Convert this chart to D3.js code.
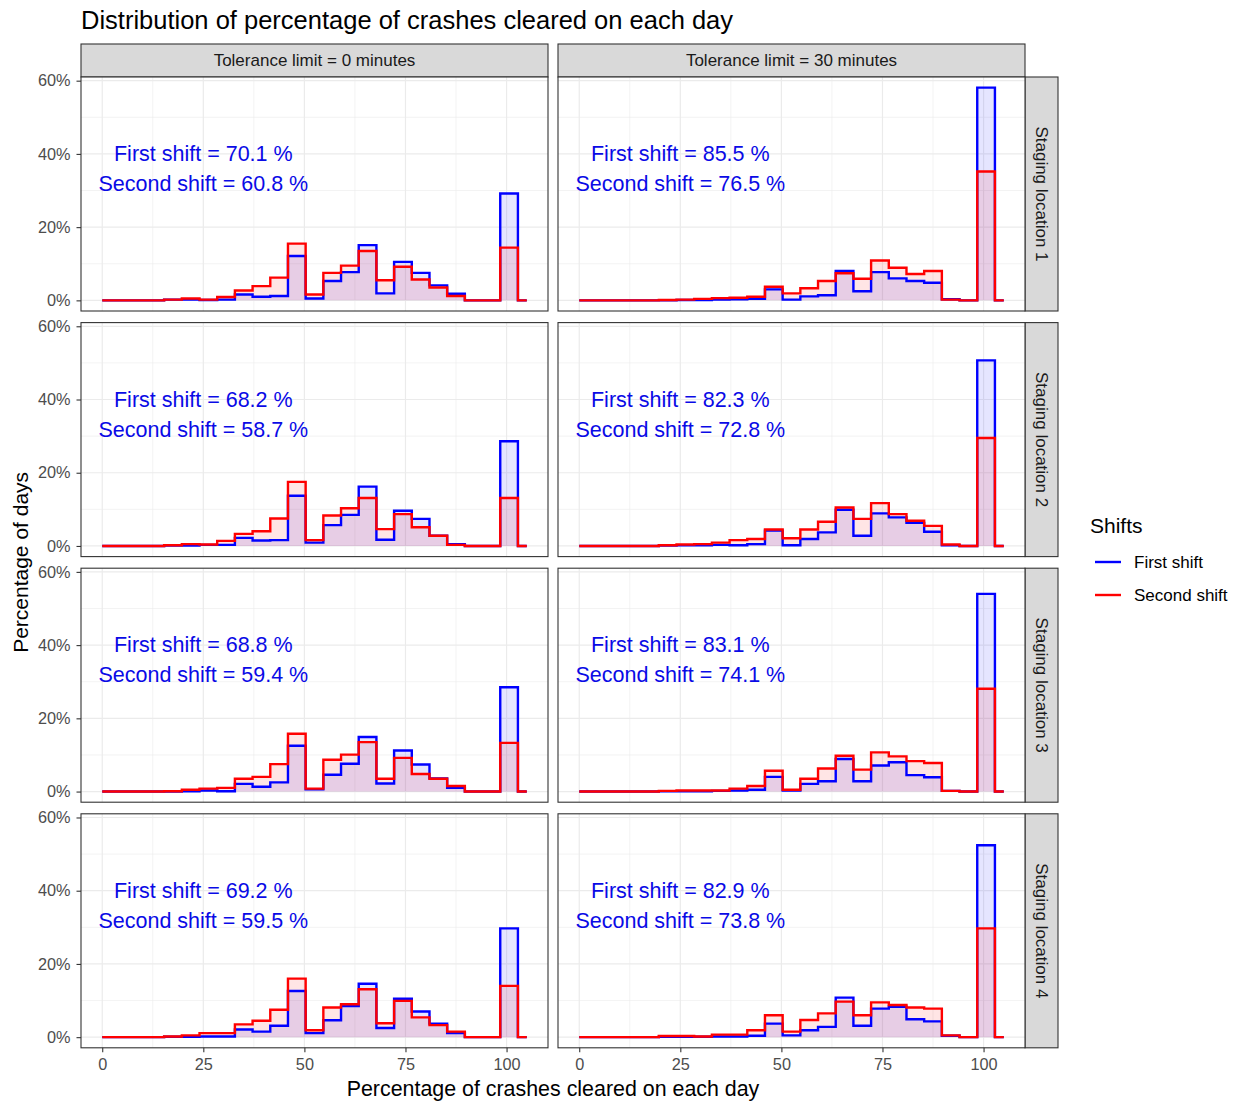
<!DOCTYPE html>
<html>
<head>
<meta charset="utf-8">
<script src="https://cdn.jsdelivr.net/npm/d3@7"></script>
<style>
  html, body { margin: 0; padding: 0; background: #ffffff; }
  text { font-family: "Liberation Sans", Arial, Helvetica, sans-serif; }
</style>
</head>
<body>
<script>
// Bin centres (percentage of crashes cleared on a day)
const binCenters = [0, 4.375, 8.75, 13.125, 17.5, 21.875, 26.25, 30.625, 35, 39.375,
  43.75, 48.125, 52.5, 56.875, 61.25, 65.625, 70, 74.375, 78.75, 83.125,
  87.5, 91.875, 96.25, 100.625, 105];

// Percentage of days in each bin, tolerance 0 minutes
const firstT0L1  = [0,0,0,0, 0.2,0.2,0.1,0.2,1.6,1.0,1.2,12.1,0.5,5.3,7.7,15.1,1.9,10.5,7.5,4.1,1.8,0,0,29.2,0];
const secondT0L1 = [0,0,0,0, 0.2,0.5,0.2,0.9,2.7,3.9,6.2,15.5,1.6,7.5,9.5,13.5,5.5,9.2,5.7,3.5,1.2,0,0,14.4,0];
const firstT0L2  = [0,0,0,0, 0.1,0.1,0.3,0.3,2.2,1.5,1.6,13.7,0.9,5.7,8.5,16.2,1.7,9.6,7.4,2.8,0.5,0,0,28.6,0];
const secondT0L2 = [0,0,0,0, 0.2,0.5,0.4,1.4,3.3,4.0,7.5,17.5,1.6,8.3,10.3,13.1,4.6,8.7,5.1,2.8,0.3,0,0,13.1,0];
const firstT0L3  = [0,0,0,0, 0,0.1,0.3,0.1,2.1,1.3,2.5,12.5,0.6,4.6,7.6,14.9,2.2,11.2,7.4,3.6,1.0,0,0,28.5,0];
const secondT0L3 = [0,0,0,0, 0.1,0.5,0.8,1.0,3.5,4.0,7.5,15.8,0.8,8.7,10.1,13.5,3.5,9.2,4.8,3.5,1.5,0,0,13.3,0];
const firstT0L4  = [0,0,0,0, 0.1,0.1,0.2,0.2,2.1,1.5,3.1,12.6,1.1,4.6,8.5,14.6,2.5,10.5,7.0,3.7,1.1,0,0,29.7,0];
const secondT0L4 = [0,0,0,0, 0.2,0.5,1.1,1.1,3.5,4.5,7.5,16.0,1.9,8.1,9.0,13.1,3.8,9.9,5.4,3.3,1.5,0,0,14.0,0];

// Percentage of days in each bin, tolerance 30 minutes
const firstT30L1  = [0,0,0,0, 0,0,0.1,0.1,0.2,0.3,0.4,3.0,0.2,1.1,1.4,8.0,2.5,7.7,6.0,5.3,4.8,0.3,0,58.1,0];
const secondT30L1 = [0,0,0,0, 0,0.1,0.2,0.4,0.6,0.7,1.0,3.7,1.9,3.3,5.3,7.4,5.9,10.9,8.9,7.2,8.0,0.2,0,35.2,0];
const firstT30L2  = [0,0,0,0, 0,0.1,0.2,0.2,0.3,0.2,0.5,4.2,0.2,1.9,3.7,9.9,2.8,8.9,7.8,6.3,3.9,0.2,0,50.7,0];
const secondT30L2 = [0,0,0,0, 0,0.2,0.4,0.5,0.9,1.6,1.9,4.5,2.1,4.5,6.6,10.5,7.4,11.7,8.7,6.9,5.5,0.4,0,29.5,0];
const firstT30L3  = [0,0,0,0, 0,0.1,0.1,0.1,0.2,0.3,0.5,4.0,0.3,2.1,2.8,8.9,2.8,7.1,8.0,4.5,3.9,0.2,0,54.0,0];
const secondT30L3 = [0,0,0,0, 0,0.2,0.3,0.3,0.3,0.8,1.5,5.7,0.5,3.5,6.3,9.8,6.0,10.7,9.6,8.3,7.8,0.2,0,28.1,0];
const firstT30L4  = [0,0,0,0, 0,0.1,0.1,0.1,0.2,0.2,0.4,3.7,0.5,1.9,2.8,10.8,3.1,7.8,8.3,4.9,4.3,0.4,0,52.4,0];
const secondT30L4 = [0,0,0,0, 0,0.3,0.3,0.2,0.7,0.7,1.9,6.0,1.5,4.7,6.5,9.7,6.0,9.5,8.8,8.1,7.8,0.5,0,29.7,0];

// Average clearance per shift (rows: locations, columns: tolerance)
const firstShiftAvg  = [[70.1, 85.5], [68.2, 82.3], [68.8, 83.1], [69.2, 82.9]];
const secondShiftAvg = [[60.8, 76.5], [58.7, 72.8], [59.4, 74.1], [59.5, 73.8]];

const toleranceLabels = ["Tolerance limit = 0 minutes", "Tolerance limit = 30 minutes"];
const locationLabels = ["Staging location 1", "Staging location 2", "Staging location 3", "Staging location 4"];
const shiftNames = ["First shift", "Second shift"];
const xTicks = [0, 25, 50, 75, 100];
const xMinor = [12.5, 37.5, 62.5, 87.5];
const yTicks = [0, 20, 40, 60];
const yMinor = [10, 30, 50];

const firstSeries = [[firstT0L1, firstT30L1], [firstT0L2, firstT30L2], [firstT0L3, firstT30L3], [firstT0L4, firstT30L4]];
const secondSeries = [[secondT0L1, secondT30L1], [secondT0L2, secondT30L2], [secondT0L3, secondT30L3], [secondT0L4, secondT30L4]];

// ---- layout ----
const W = 1238, H = 1102;
const colLeft = [81, 558];
const panelW = 467;
const rowTop = [77, 322.6, 568.2, 813.8];
const panelH = 234;
const stripH = 33;
const stripW = 33;
const shiftColor = ["#0000FF", "#FF0000"];
const FONT = '"Liberation Sans", Arial, sans-serif';

const svg = d3.select("body").append("svg")
  .attr("width", W).attr("height", H);

const allValues = firstSeries.flat(2).concat(secondSeries.flat(2));
const yMax = d3.max(allValues);

const x = d3.scaleLinear().domain([-5.25, 110.25]).range([0, panelW]);
const y = d3.scaleLinear().domain([-0.05 * yMax, 1.05 * yMax]).range([panelH, 0]);

const line = d3.line().x((d, i) => x(binCenters[i])).y(d => y(d)).curve(d3.curveStep);
const area = d3.area().x((d, i) => x(binCenters[i])).y0(y(0)).y1(d => y(d)).curve(d3.curveStep);

// Title
svg.append("text")
  .attr("x", 81).attr("y", 20)
  .attr("dominant-baseline", "central")
  .attr("font-size", 25.5)
  .attr("fill", "#000")
  .text("Distribution of percentage of crashes cleared on each day");

// Column strips
toleranceLabels.forEach((lab, c) => {
  svg.append("rect")
    .attr("x", colLeft[c]).attr("y", rowTop[0] - stripH)
    .attr("width", panelW).attr("height", stripH)
    .attr("fill", "#d9d9d9").attr("stroke", "#333333").attr("stroke-width", 1.1);
  svg.append("text")
    .attr("x", colLeft[c] + panelW / 2).attr("y", rowTop[0] - stripH / 2)
    .attr("text-anchor", "middle").attr("dominant-baseline", "central")
    .attr("font-size", 17).attr("fill", "#1a1a1a")
    .text(lab);
});

// Row strips
locationLabels.forEach((lab, r) => {
  const sx = colLeft[1] + panelW;
  svg.append("rect")
    .attr("x", sx).attr("y", rowTop[r])
    .attr("width", stripW).attr("height", panelH)
    .attr("fill", "#d9d9d9").attr("stroke", "#333333").attr("stroke-width", 1.1);
  svg.append("text")
    .attr("transform", `translate(${sx + stripW / 2},${rowTop[r] + panelH / 2}) rotate(90)`)
    .attr("text-anchor", "middle").attr("dominant-baseline", "central")
    .attr("font-size", 17).attr("fill", "#1a1a1a")
    .text(lab);
});

// Panels
for (let r = 0; r < 4; r++) {
  for (let c = 0; c < 2; c++) {
    const g = svg.append("g").attr("transform", `translate(${colLeft[c]},${rowTop[r]})`);
    g.append("rect").attr("width", panelW).attr("height", panelH).attr("fill", "#fff");

    // grid
    g.selectAll(".xminor").data(xMinor).enter().append("line")
      .attr("x1", d => x(d)).attr("x2", d => x(d)).attr("y1", 0).attr("y2", panelH)
      .attr("stroke", "#ebebeb").attr("stroke-width", 0.6);
    g.selectAll(".yminor").data(yMinor).enter().append("line")
      .attr("y1", d => y(d)).attr("y2", d => y(d)).attr("x1", 0).attr("x2", panelW)
      .attr("stroke", "#ebebeb").attr("stroke-width", 0.6);
    g.selectAll(".xmajor").data(xTicks).enter().append("line")
      .attr("x1", d => x(d)).attr("x2", d => x(d)).attr("y1", 0).attr("y2", panelH)
      .attr("stroke", "#ebebeb").attr("stroke-width", 1.2);
    g.selectAll(".ymajor").data(yTicks).enter().append("line")
      .attr("y1", d => y(d)).attr("y2", d => y(d)).attr("x1", 0).attr("x2", panelW)
      .attr("stroke", "#ebebeb").attr("stroke-width", 1.2);

    const s1 = firstSeries[r][c], s2 = secondSeries[r][c];
    g.append("path").attr("d", area(s1)).attr("fill", shiftColor[0]).attr("fill-opacity", 0.1);
    g.append("path").attr("d", area(s2)).attr("fill", shiftColor[1]).attr("fill-opacity", 0.1);
    g.append("path").attr("d", line(s1)).attr("fill", "none")
      .attr("stroke", shiftColor[0]).attr("stroke-width", 2.4);
    g.append("path").attr("d", line(s2)).attr("fill", "none")
      .attr("stroke", shiftColor[1]).attr("stroke-width", 2.4);

    // averages
    g.append("text")
      .attr("x", x(25)).attr("y", y(40))
      .attr("text-anchor", "middle").attr("dominant-baseline", "central")
      .attr("font-size", 21.5).attr("fill", "#0a0ae6")
      .text(`${shiftNames[0]} = ${firstShiftAvg[r][c].toFixed(1)} %`);
    g.append("text")
      .attr("x", x(25)).attr("y", y(31.8))
      .attr("text-anchor", "middle").attr("dominant-baseline", "central")
      .attr("font-size", 21.5).attr("fill", "#0a0ae6")
      .text(`${shiftNames[1]} = ${secondShiftAvg[r][c].toFixed(1)} %`);

    g.append("rect").attr("width", panelW).attr("height", panelH)
      .attr("fill", "none").attr("stroke", "#333333").attr("stroke-width", 1.1);

    // axes
    if (c === 0) {
      const ax = g.append("g").call(
        d3.axisLeft(y).tickValues(yTicks).tickFormat(d => d + "%").tickSize(4.5).tickPadding(6));
      ax.select(".domain").remove();
      ax.selectAll("line").attr("stroke", "#333333").attr("stroke-width", 1.1);
      ax.selectAll("text").attr("font-size", 16.3).attr("fill", "#4d4d4d")
        .style("font-family", FONT);
    }
    if (r === 3) {
      const ax = g.append("g").attr("transform", `translate(0,${panelH})`).call(
        d3.axisBottom(x).tickValues(xTicks).tickFormat(d3.format("d")).tickSize(4.5).tickPadding(6));
      ax.select(".domain").remove();
      ax.selectAll("line").attr("stroke", "#333333").attr("stroke-width", 1.1);
      ax.selectAll("text").attr("font-size", 16.3).attr("fill", "#4d4d4d")
        .style("font-family", FONT);
    }
  }
}

// Axis titles
svg.append("text")
  .attr("x", colLeft[0] + (colLeft[1] + panelW - colLeft[0]) / 2).attr("y", 1089)
  .attr("text-anchor", "middle").attr("dominant-baseline", "central")
  .attr("font-size", 21.4).attr("fill", "#000")
  .text("Percentage of crashes cleared on each day");
svg.append("text")
  .attr("transform", `translate(20,${rowTop[0] + (rowTop[3] + panelH - rowTop[0]) / 2}) rotate(-90)`)
  .attr("text-anchor", "middle").attr("dominant-baseline", "central")
  .attr("font-size", 21).attr("fill", "#000")
  .text("Percentage of days");

// Legend
const lg = svg.append("g").attr("transform", "translate(1090,0)");
lg.append("text").attr("x", 0).attr("y", 525)
  .attr("dominant-baseline", "central").attr("font-size", 21).attr("fill", "#000")
  .text("Shifts");
shiftNames.forEach((nm, i) => {
  const ly = 562 + i * 33;
  lg.append("line").attr("x1", 5).attr("x2", 31).attr("y1", ly).attr("y2", ly)
    .attr("stroke", shiftColor[i]).attr("stroke-width", 2.4);
  lg.append("text").attr("x", 44).attr("y", ly)
    .attr("dominant-baseline", "central").attr("font-size", 17).attr("fill", "#000")
    .text(nm);
});
</script>
</body>
</html>
